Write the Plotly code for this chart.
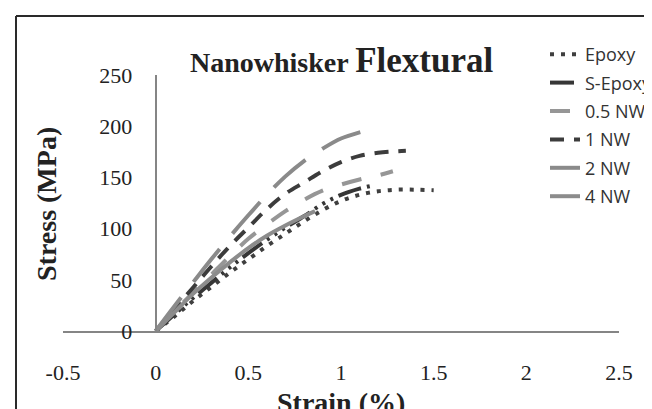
import plotly.graph_objects as go

# ---- data ----
series_names = ["Epoxy", "S-Epoxy", "0.5 NW", "1 NW", "2 NW", "4 NW"]

epoxy_x = [0, 0.1, 0.2, 0.3, 0.4, 0.5, 0.6, 0.7, 0.8, 0.9, 1.0, 1.1, 1.2, 1.3, 1.4, 1.5]
epoxy_y = [0, 14, 29, 43, 57, 70, 83, 95, 107, 118, 127, 133, 136.5, 138, 138, 137.5]

sepoxy_x = [0, 0.1, 0.2, 0.3, 0.4, 0.5, 0.6, 0.7, 0.8, 0.9, 1.0, 1.1, 1.17]
sepoxy_y = [0, 16, 32, 47, 62, 76, 89, 101, 112, 124, 133, 139, 142]

nw05_x = [0, 0.1, 0.2, 0.3, 0.4, 0.5, 0.6, 0.7, 0.8, 0.9, 1.0, 1.1, 1.2, 1.28]
nw05_y = [0, 19, 37, 55, 73, 90, 104, 117, 128, 137, 143, 148, 152, 156]

nw1_x = [0, 0.1, 0.2, 0.3, 0.4, 0.5, 0.6, 0.7, 0.8, 0.9, 1.0, 1.1, 1.2, 1.3, 1.35]
nw1_y = [0, 21, 42, 63, 83, 101, 119, 134, 145, 156, 165, 171, 174, 175.5, 176]

nw2_x = [0, 0.1, 0.2, 0.3, 0.4, 0.5, 0.6, 0.7, 0.8, 0.9, 1.0, 1.1, 1.17]
nw2_y = [0, 24, 47, 70, 92, 113, 133, 151, 166, 178, 188, 194, 197]

nw4_x = [0, 0.1, 0.2, 0.3, 0.4, 0.5, 0.6, 0.7, 0.8, 0.86]
nw4_y = [0, 18, 36, 52, 67, 81, 93, 103, 112, 117]

x_ticks = [-0.5, 0, 0.5, 1, 1.5, 2, 2.5]
y_ticks = [0, 50, 100, 150, 200, 250]

# ---- styles ----
styles = [
    dict(color="#3f3f3f", width=4, dash="4px,7px"),
    dict(color="#363636", width=4, dash="24px,6px,3px,6px,3px,6px,3px,6px"),
    dict(color="#969696", width=4, dash="20px,20px"),
    dict(color="#3c3c3c", width=4, dash="14px,10px"),
    dict(color="#8a8a8a", width=4, dash="42px,20px"),
    dict(color="#8c8c8c", width=4, dash="solid"),
]
data = [(epoxy_x, epoxy_y), (sepoxy_x, sepoxy_y), (nw05_x, nw05_y),
        (nw1_x, nw1_y), (nw2_x, nw2_y), (nw4_x, nw4_y)]

fig = go.Figure()
for name, (xs, ys), st in zip(series_names, data, styles):
    fig.add_trace(go.Scatter(x=xs, y=ys, mode="lines", name=name,
                             line=dict(shape="spline", **st),
                             legendgroup=name))

W, H = 652, 409
L, R, T, B = 55, 41, 67, 86
pw, ph = W - L - R, H - T - B

def px(xp):
    return (xp - L) / pw

def py(yp):
    return (H - B - yp) / ph

serif = "Liberation Serif, Times New Roman, serif"

fig.update_layout(
    width=W, height=H,
    margin=dict(l=L, r=R, t=T, b=B, autoexpand=False),
    paper_bgcolor="white", plot_bgcolor="white",
    showlegend=True,
    legend=dict(x=px(537), y=py(28), xanchor="left", yanchor="top",
                font=dict(family="Open Sans", size=18, color="#333"),
                bgcolor="rgba(0,0,0,0)", tracegroupgap=2),
    xaxis=dict(range=[-0.5, 2.5], tickvals=x_ticks,
               ticktext=[f"{v:g}" for v in x_ticks],
               showgrid=False, zeroline=False, showline=True,
               linecolor="#858585", linewidth=2, ticks="",
               ticklabelstandoff=21,
               tickfont=dict(family=serif, size=22, color="#222")),
    yaxis=dict(range=[0, 250], tickvals=y_ticks, anchor="free", position=1/6,
               showgrid=False, zeroline=False, showline=True,
               linecolor="#858585", linewidth=2, ticks="",
               ticklabelstandoff=18,
               tickfont=dict(family=serif, size=22, color="#222")),
    annotations=[
        dict(text="<b>Nanowhisker <span style='font-size:35px'>Flextural</span></b>",
             x=px(333), y=py(52), xref="paper", yref="paper",
             xanchor="center", yanchor="middle", showarrow=False,
             font=dict(family=serif, size=28, color="#222")),
        dict(text="<b>Stress (MPa)</b>", textangle=-90,
             x=px(38), y=py(196), xref="paper", yref="paper",
             xanchor="center", yanchor="middle", showarrow=False,
             font=dict(family=serif, size=28, color="#222")),
        dict(text="<b>Strain (%)</b>",
             x=px(333), y=py(377), xref="paper", yref="paper",
             xanchor="center", yanchor="top", showarrow=False,
             font=dict(family=serif, size=28, color="#222")),
    ],
    shapes=[
        dict(type="line", xref="paper", yref="paper", x0=px(8), x1=px(8),
             y0=py(8), y1=py(420), line=dict(color="#2a2a2a", width=2)),
        dict(type="line", xref="paper", yref="paper", x0=px(8), x1=px(651),
             y0=py(8), y1=py(8), line=dict(color="#2a2a2a", width=2)),
        dict(type="line", xref="paper", yref="paper", x0=px(650), x1=px(650),
             y0=py(8), y1=py(420), line=dict(color="#bbbbbb", width=1)),
    ],
)

fig.write_html("out.html")
